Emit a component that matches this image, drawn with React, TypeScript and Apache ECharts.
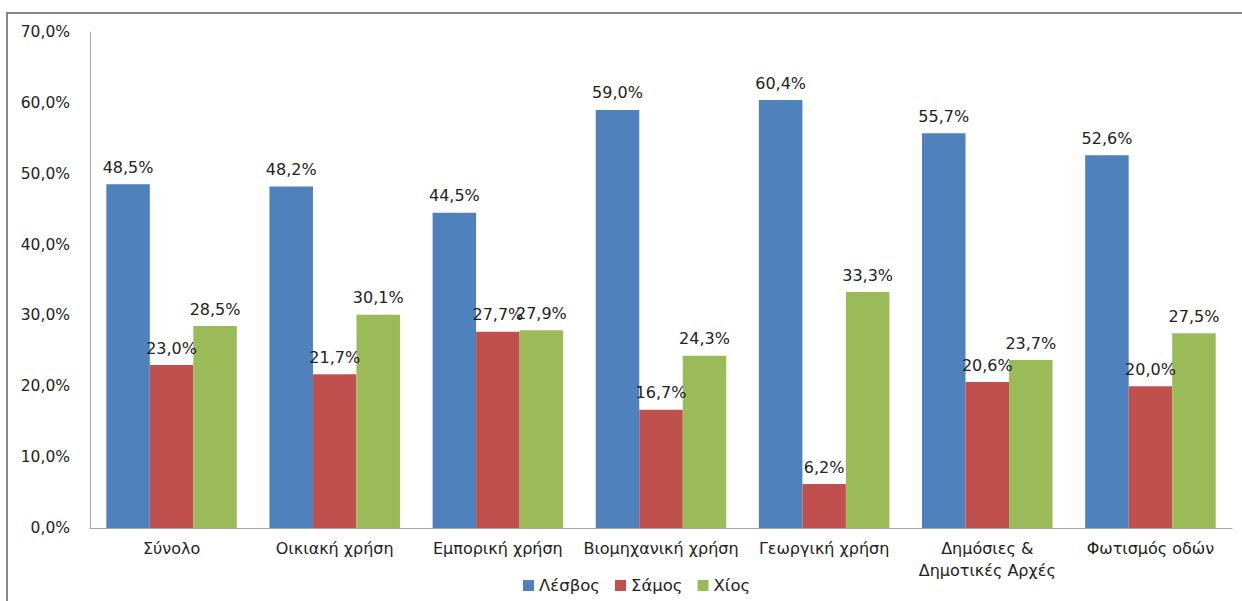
import React, { useEffect, useRef } from "react";
import * as echarts from "echarts";

const categories = [
  "Σύνολο",
  "Οικιακή χρήση",
  "Εμπορική χρήση",
  "Βιομηχανική χρήση",
  "Γεωργική χρήση",
  "Δημόσιες &\nΔημοτικές Αρχές",
  "Φωτισμός οδών",
];
const lesvos = [48.5, 48.2, 44.5, 59.0, 60.4, 55.7, 52.6];
const samos = [23.0, 21.7, 27.7, 16.7, 6.2, 20.6, 20.0];
const chios = [28.5, 30.1, 27.9, 24.3, 33.3, 23.7, 27.5];
const seriesNames = ["Λέσβος", "Σάμος", "Χίος"];
const colors = ["#4F81BD", "#C0504D", "#9BBB59"];

const fmt = (v: number) => v.toFixed(1).replace(".", ",") + "%";
const FONT = "DejaVu Sans";

export default function App() {
  const ref = useRef<HTMLDivElement>(null);
  useEffect(() => {
    if (!ref.current) return;
    const chart = echarts.init(ref.current, null, { renderer: "svg" });
    const data = [lesvos, samos, chios];
    chart.setOption({
      animation: false,
      backgroundColor: "#ffffff",
      textStyle: { fontFamily: FONT },
      graphic: [
        {
          type: "line",
          shape: { x1: 7, y1: 13, x2: 1242, y2: 13 },
          style: { stroke: "#868686", lineWidth: 2 },
          silent: true,
          z: 10,
        },
        {
          type: "line",
          shape: { x1: 7, y1: 12, x2: 7, y2: 601 },
          style: { stroke: "#868686", lineWidth: 2 },
          silent: true,
          z: 10,
        },
      ],
      grid: { left: 90, right: 10, top: 32, bottom: 73, containLabel: false },
      legend: {
        top: 572,
        left: 518,
        itemWidth: 11,
        itemHeight: 11,
        itemGap: 15,
        icon: "rect",
        textStyle: { fontFamily: FONT, fontSize: 16.5, color: "#222" },
        data: seriesNames,
      },
      xAxis: {
        type: "category",
        data: categories,
        axisLine: { lineStyle: { color: "#A6A6A6", width: 1 } },
        axisTick: { show: false },
        axisLabel: {
          fontFamily: FONT,
          fontSize: 16,
          color: "#222",
          margin: 9,
          lineHeight: 22,
          interval: 0,
        },
      },
      yAxis: {
        type: "value",
        min: 0,
        max: 70,
        interval: 10,
        axisLine: { show: true, lineStyle: { color: "#A6A6A6", width: 1 } },
        axisTick: { show: false },
        splitLine: { show: false },
        axisLabel: {
          fontFamily: FONT,
          fontSize: 15.5,
          color: "#222",
          margin: 20,
          formatter: (v: number) => fmt(v),
        },
      },
      series: data.map((d, i) => ({
        name: seriesNames[i],
        type: "bar",
        data: d,
        barGap: "0%",
        barCategoryGap: "20%",
        itemStyle: { color: colors[i] },
        label: {
          show: true,
          position: "top",
          distance: 9,
          fontFamily: FONT,
          fontSize: 16,
          color: "#222",
          formatter: (p: any) => fmt(p.value),
        },
      })),
    });
    return () => chart.dispose();
  }, []);
  return (
    <div
      ref={ref}
      style={{ position: "fixed", left: 0, top: 0, width: 1242, height: 601 }}
    />
  );
}
